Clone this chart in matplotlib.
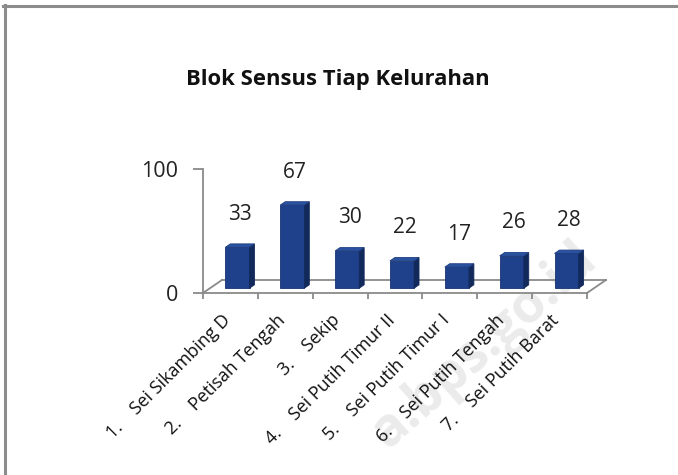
import matplotlib
matplotlib.use("Agg")
import matplotlib.pyplot as plt
from matplotlib.patches import Polygon
from matplotlib.lines import Line2D
import numpy as np

plt.rcParams['font.family'] = ['Open Sans', 'DejaVu Sans']

title = "Blok Sensus Tiap Kelurahan"
numbers = ["1.", "2.", "3.", "4.", "5.", "6.", "7."]
categories = ["Sei Sikambing D", "Petisah Tengah", "Sekip", "Sei Putih Timur II",
              "Sei Putih Timur I", "Sei Putih Tengah", "Sei Putih Barat"]
values = [33, 67, 30, 22, 17, 26, 28]
yticks = [0, 100]
watermark = "a.bps.go.id"

W, H = 678, 475
fig = plt.figure(figsize=(W / 100, H / 100), dpi=100)
fig.patch.set_facecolor("white")

# watermark (behind everything)
fig.text(484 / W, 1 - 345 / H, watermark, ha="center", va="center", rotation=41.5,
         rotation_mode="anchor", fontsize=38, fontweight="bold", color="#ebebeb", zorder=-5)

# axes area in pixels: x 203..587, y(0) at 293, y(100) at 169
ax = fig.add_axes([203 / W, (H - 293) / H, (587 - 203) / W, 124 / H])
ax.set_zorder(2)
n = len(values)
ax.set_xlim(0, n)
ax.set_ylim(0, 100)
ax.set_facecolor("none")

# pseudo-3D depth (data units)
DX, DY = 0.346, 10.5
f0, f1 = 0.37, 0.63
bw = 0.44
gray = "#8a8a8a"

# floor outline
ax.plot([0, n], [0, 0], color=gray, lw=1.3, zorder=1, clip_on=False)
ax.plot([DX, n + DX], [DY, DY], color=gray, lw=1.3, zorder=1, clip_on=False)
ax.plot([0, DX], [0, DY], color=gray, lw=1.3, zorder=1, clip_on=False)
ax.plot([n, n + DX], [0, DY], color=gray, lw=1.3, zorder=1, clip_on=False)

centers = np.arange(n) + 0.5
front_x = centers + f0 * DX
base = f0 * DY
ddx, ddy = (f1 - f0) * DX, (f1 - f0) * DY

ax.bar(front_x, values, width=bw, bottom=base, color="#1f418c",
       edgecolor="#173470", linewidth=0.6, zorder=3, clip_on=False)
for x, v in zip(front_x, values):
    xl, xr = x - bw / 2, x + bw / 2
    top = base + v
    side = Polygon([(xr, base), (xr + ddx, base + ddy), (xr + ddx, top + ddy), (xr, top)],
                   closed=True, facecolor="#12295c", edgecolor="#12295c", lw=0.6,
                   zorder=3, clip_on=False)
    topf = Polygon([(xl, top), (xl + ddx, top + ddy), (xr + ddx, top + ddy), (xr, top)],
                   closed=True, facecolor="#2a52a0", edgecolor="#1d3c80", lw=0.6,
                   zorder=4, clip_on=False)
    ax.add_patch(side)
    ax.add_patch(topf)
    ax.annotate(str(v), xy=(x + ddx / 2, top), xytext=(0, 33), textcoords="offset pixels",
                ha="center", va="center", fontsize=15, color="#222222", zorder=5,
                annotation_clip=False)

# spines
for s in ["top", "right", "bottom"]:
    ax.spines[s].set_visible(False)
ax.spines["left"].set_color(gray)
ax.spines["left"].set_linewidth(1.3)

ax.set_yticks(yticks)
ax.set_yticklabels([str(t) for t in yticks], fontsize=15.5, color="#222222")
ax.tick_params(axis="y", length=7, width=1.3, color=gray, pad=11)

labels = [f"{a}    {b}" for a, b in zip(numbers, categories)]
ax.set_xticks(centers + 0.06)
ax.set_xticklabels(labels, rotation=45, ha="right", va="top", fontsize=13, color="#111111")
ax.set_xticks(np.arange(n + 1), minor=True)
ax.tick_params(axis="x", which="major", length=0, pad=13)
ax.tick_params(axis="x", which="minor", length=4, width=1.3, color=gray, direction="out")

fig.text(337.5 / W, 1 - 80 / H, title, ha="center", va="center", fontsize=15.8,
         fontweight="bold", color="#111111")

# border (left and top)
fig.add_artist(Line2D([4.5 / W, 4.5 / W], [0, 1 - 5 / H], color="#8c8c8c", lw=2.2,
                      transform=fig.transFigure))
fig.add_artist(Line2D([3 / W, 1], [1 - 5.5 / H, 1 - 5.5 / H], color="#8c8c8c", lw=2.2,
                      transform=fig.transFigure))

fig.savefig("out.png", dpi=100, facecolor="white")
